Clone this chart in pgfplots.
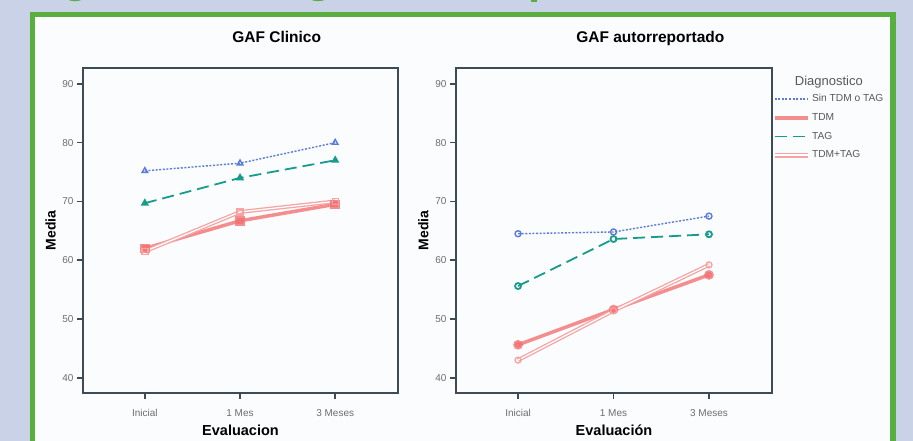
\documentclass[border=0pt]{standalone}
\usepackage{fontspec}
\setmainfont{Liberation Sans}
\usepackage{pgfplots}
\pgfplotsset{compat=1.18}
\definecolor{Lav}{HTML}{CAD2E8}
\definecolor{Frame}{HTML}{58AE3E}
\definecolor{Paper}{HTML}{FBFCFE}
\definecolor{AxisC}{HTML}{3D4B57}
\definecolor{TickC}{HTML}{6E6E6E}
\definecolor{LegC}{HTML}{585858}
\definecolor{SinC}{HTML}{5A7BDA}
\definecolor{TdmC}{HTML}{F27272}
\definecolor{TagC}{HTML}{179C8C}
\definecolor{BothC}{HTML}{F5A3A3}
\pgfplotsset{gafpanel/.style={scale only axis,width=315pt,height=325pt,anchor=south west,
  xmin=-0.65,xmax=2.66,ymin=37.4,ymax=92.7,xtick={0,1,2},ytick={40,50,...,90},
  tick align=outside,xtick pos=bottom,ytick pos=left,major tick length=6pt,
  axis line style={draw=AxisC,line width=2.2pt},tick style={AxisC,line width=1.6pt},
  tick label style={font=\fontsize{10}{12}\selectfont,text=TickC},
  xticklabel style={yshift=-7pt},
  /pgf/number format/assume math mode=true,
  xlabel style={at={(axis description cs:0.5,-0.114)},anchor=center,font=\bfseries\fontsize{14.5}{16}\selectfont},
  ylabel style={at={(axis description cs:-0.103,0.5)},anchor=center,font=\bfseries\fontsize{14}{16}\selectfont},
  title style={at={(axis description cs:0.615,1.059)},anchor=base,font=\bfseries\fontsize{15.5}{18}\selectfont},
  clip=false},
  sinS/.style={color=SinC,line width=1.4pt,dash pattern=on 2pt off 1.6pt},
  tagS/.style={color=TagC,line width=1.8pt,dash pattern=on 12pt off 6pt},
  tdmS/.style={color=TdmC,line width=3.5pt,opacity=0.8},
  bothS/.style={color=BothC,line width=1.3pt,double=white,double distance=1.3pt}}
\begin{document}
\begin{tikzpicture}[x=1pt,y=1pt]
\useasboundingbox (0,0) rectangle (913,441);
\fill[Lav] (0,0) rectangle (913,441);
\fill[Paper] (32.5,-10) rectangle (893,426.5);
\draw[Frame,line width=5.5pt] (32.5,-10) rectangle (893,426.5);
% cut-off descenders of the heading above the frame
\draw[Frame,line width=3pt] (67,444) .. controls (69,440.5) and (81,440.5) .. (83,444);
\draw[Frame,line width=3pt] (310,444) .. controls (312,440.5) and (324,440.5) .. (326,444);
\fill[Frame] (531,438.5) rectangle (537,441);

\begin{axis}[gafpanel,at={(83pt,48pt)},title={GAF Clinico},xlabel={Evaluacion},ylabel={Media},
  xticklabels={Inicial,1 Mes,3 Meses}]
\addplot[sinS,mark=triangle,mark size=3.2pt,mark options={solid,fill=white}] coordinates {(0,75.2) (1,76.5) (2,80.0)};
\addplot[tdmS,mark=square*,mark size=3pt,mark options={solid}] coordinates {(0,62.0) (1,66.7) (2,69.5)};
\addplot[tagS,mark=triangle*,mark size=3pt,mark options={solid}] coordinates {(0,69.7) (1,74.0) (2,77.0)};
\addplot[bothS,mark=square,mark size=3pt,mark options={solid}] coordinates {(0,61.5) (1,68.2) (2,70.0)};
\end{axis}

\begin{axis}[gafpanel,at={(456pt,48pt)},width=316pt,title={GAF autorreportado},xlabel={Evaluación},ylabel={Media},
  xticklabels={Inicial,1 Mes,3 Meses},
  legend style={at={(axis description cs:1.0,0.918)},anchor=north west,draw=none,fill=none,inner sep=0pt,
    font=\fontsize{10.2}{11}\selectfont,row sep=9.6pt,column sep=2pt,
    nodes={inner sep=0pt,text height=7pt,text depth=2pt}},
  legend cell align=left,
  legend image code/.code={\draw[line width=1.8pt,#1] (0pt,0pt) -- (33pt,0pt);}]
\addplot[sinS,mark=o,mark size=3pt,mark options={solid,fill=white}] coordinates {(0,64.5) (1,64.8) (2,67.5)};
\addlegendentry{\textcolor{LegC}{Sin TDM o TAG}}
\addplot[tdmS,mark=*,mark size=3pt,mark options={solid},
  legend image code/.code={\draw[TdmC,line width=3.5pt,opacity=0.8] (0pt,0pt) -- (33pt,0pt);}] coordinates {(0,45.6) (1,51.6) (2,57.5)};
\addlegendentry{\textcolor{LegC}{TDM}}
\addplot[tagS,mark=o,mark size=3pt,mark options={solid,fill=white}] coordinates {(0,55.6) (1,63.6) (2,64.4)};
\addlegendentry{\textcolor{LegC}{TAG}}
\addplot[bothS,mark=o,mark size=3pt,mark options={solid}] coordinates {(0,43.0) (1,51.4) (2,59.2)};
\addlegendentry{\textcolor{LegC}{TDM+TAG}}
\node[font=\fontsize{13}{15}\selectfont,text=LegC] at (axis description cs:1.18,0.957) {Diagnostico};
\end{axis}
\end{tikzpicture}
\end{document}
